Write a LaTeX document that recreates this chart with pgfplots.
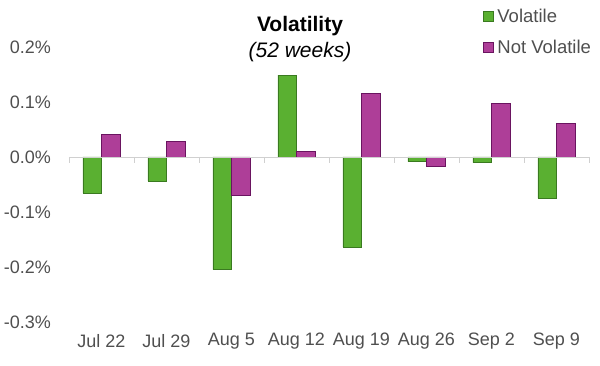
\documentclass[border=0pt]{standalone}
\usepackage{pgfplots}
\pgfplotsset{compat=1.18}
\usepackage{fontspec}
\setmainfont{Liberation Sans}
\definecolor{vgreen}{HTML}{5AB031}
\definecolor{vgreenD}{HTML}{3A7A20}
\definecolor{vpurp}{HTML}{AE3E98}
\definecolor{vpurpD}{HTML}{6A1460}
\definecolor{tickgray}{HTML}{4F4F4F}
\definecolor{linegray}{HTML}{D0D0D0}
\begin{document}
\begin{tikzpicture}
\useasboundingbox (-69pt,-44pt) rectangle (531pt,322pt);
\begin{axis}[
  scale only axis, width=520pt, height=275pt,
  xmin=-0.5, xmax=7.5, ymin=-0.3, ymax=0.2,
  ybar=0pt, bar width=18.5pt,
  axis line style={draw=none},
  major tick length=0pt,
  xtick={0,1,2,3,4,5,6,7},
  xticklabels={Jul 22,Jul 29,Aug 5,Aug 12,Aug 19,Aug 26,Sep 2,Sep 9},
  ytick={-0.3,-0.2,-0.1,0,0.1,0.2},
  yticklabels={-0.3\%,-0.2\%,-0.1\%,0.0\%,0.1\%,0.2\%},
  ticklabel style={font=\fontsize{18}{21}\selectfont, text=tickgray},
  yticklabel style={anchor=east, inner sep=0pt, xshift=-18pt},
  xticklabel style={anchor=center, inner sep=0pt, yshift=-19pt},
  legend style={draw=none, fill=none, at={(axis description cs:0.796,1.145)}, anchor=north west,
    font=\fontsize{18.5}{21}\selectfont, text=tickgray, row sep=12pt, column sep=1.5pt, inner sep=0pt},
  legend cell align=left,
  legend image code/.code={\draw[#1] (0pt,-5pt) rectangle (10pt,5pt);},
  clip=false,
]
\addplot[fill=vgreen, draw=vgreenD, line width=0.8pt] coordinates {
  (0,-0.0655) (1,-0.0436) (2,-0.205) (3,0.149) (4,-0.1636) (5,-0.0085) (6,-0.0103) (7,-0.0752)};
\addplot[fill=vpurp, draw=vpurpD, line width=0.8pt] coordinates {
  (0,0.0413) (1,0.0286) (2,-0.0691) (3,0.0103) (4,0.116) (5,-0.017) (6,0.098) (7,0.0614)};
\legend{Volatile, Not Volatile}
\draw[linegray, line width=0.8pt] (axis cs:-0.5,0) -- (axis cs:7.5,0);
\pgfplotsinvokeforeach{-0.5,0.5,1.5,2.5,3.5,4.5,5.5,6.5,7.5}{
  \draw[linegray, line width=0.8pt] (axis cs:#1,0) -- ++(0pt,-6pt);
}
\end{axis}
\node[font=\bfseries\fontsize{21}{24}\selectfont] at (231pt,296pt) {Volatility};
\node[font=\itshape\fontsize{21}{24}\selectfont] at (231pt,270pt) {(52 weeks)};
\end{tikzpicture}
\end{document}
